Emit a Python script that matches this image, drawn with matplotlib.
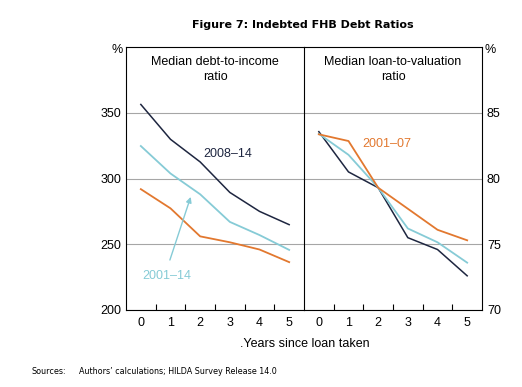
import matplotlib
matplotlib.use("Agg")
import matplotlib.pyplot as plt
import numpy as np

plt.rcParams['font.family'] = ['Liberation Sans', 'DejaVu Sans']

years = [0, 1, 2, 3, 4, 5]

# Median debt-to-income ratio (%)
dti_0814 = [356.3, 329.8, 312.6, 289.4, 275.0, 264.9]
dti_0114 = [324.7, 303.8, 288.0, 267.0, 257.0, 245.7]
dti_0107 = [291.9, 277.3, 256.0, 251.5, 246.0, 236.4]

# Median loan-to-valuation ratio (%)
lvr_0814 = [83.56, 80.5, 79.3, 75.5, 74.6, 72.6]
lvr_0114 = [83.4, 81.8, 79.3, 76.2, 75.15, 73.6]
lvr_0107 = [83.36, 82.85, 79.3, 77.7, 76.1, 75.3]

left_ticks = [200, 250, 300, 350]
right_ticks = [70, 75, 80, 85]

c_dark = '#1e2640'
c_blue = '#86cbd6'
c_orange = '#e2782f'
c_grid = '#a6a6a6'

W, H = 522, 387
fig = plt.figure(figsize=(W / 100, H / 100), dpi=100)

def px_axes(x0, y0, x1, y1):
    return fig.add_axes([x0 / W, 1 - y1 / H, (x1 - x0) / W, (y1 - y0) / H])

axL = px_axes(126, 47, 304, 310)
axR = px_axes(304, 47, 482, 310)

for ax in (axL, axR):
    ax.set_xlim(-0.5, 5.5)
    ax.set_xticks(years)
    ax.set_xticks([0.5, 1.5, 2.5, 3.5, 4.5], minor=True)
    ax.tick_params(axis='x', which='major', length=0, labelsize=9, pad=5)
    ax.tick_params(axis='x', which='minor', direction='in', length=4, width=0.8)
    ax.tick_params(axis='y', length=0, labelsize=9)
    for s in ax.spines.values():
        s.set_linewidth(0.8)
    ax.grid(axis='y', color=c_grid, linewidth=0.8)
    ax.set_axisbelow(True)

axL.set_ylim(200, 400)
axL.set_yticks(left_ticks)
axL.plot(years, dti_0814, color=c_dark, lw=1.1)
axL.plot(years, dti_0114, color=c_blue, lw=1.3)
axL.plot(years, dti_0107, color=c_orange, lw=1.3)
axL.text(2.5, 393, 'Median debt-to-income\nratio', ha='center', va='top', fontsize=9, linespacing=1.3)
axL.text(2.94, 318.4, '2008–14', color=c_dark, ha='center', va='center', fontsize=9)
axL.text(0.88, 226, '2001–14', color=c_blue, ha='center', va='center', fontsize=9)
axL.annotate('', xy=(1.71, 288), xytext=(0.95, 236),
             arrowprops=dict(arrowstyle='-|>', color=c_blue, lw=1.0, mutation_scale=8))
axL.spines['right'].set_visible(False)

axR.set_ylim(70, 90)
axR.set_yticks(right_ticks)
axR.yaxis.tick_right()
axR.plot(years, lvr_0814, color=c_dark, lw=1.1)
axR.plot(years, lvr_0114, color=c_blue, lw=1.3)
axR.plot(years, lvr_0107, color=c_orange, lw=1.3)
axR.text(2.5, 89.3, 'Median loan-to-valuation\nratio', ha='center', va='top', fontsize=9, linespacing=1.3)
axR.text(2.28, 82.6, '2001–07', color=c_orange, ha='center', va='center', fontsize=9)

fig.text(117 / W, 1 - 50 / H, '%', ha='center', va='center', fontsize=9)
fig.text(490 / W, 1 - 50 / H, '%', ha='center', va='center', fontsize=9)

fig.text(303 / W, 1 - 25 / H, 'Figure 7: Indebted FHB Debt Ratios', ha='center', va='center',
         fontsize=8, fontweight='bold', family=['DejaVu Sans'])
fig.text(305 / W, 1 - 344 / H, '.Years since loan taken', ha='center', va='center', fontsize=9)
fig.text(31 / W, 1 - 371 / H, 'Sources:', ha='left', va='center', fontsize=5.8, family=['DejaVu Sans'])
fig.text(79 / W, 1 - 371 / H, 'Authors\u2019 calculations; HILDA Survey Release 14.0', ha='left', va='center',
         fontsize=5.8, family=['DejaVu Sans'])

fig.savefig('out.png', dpi=100)
